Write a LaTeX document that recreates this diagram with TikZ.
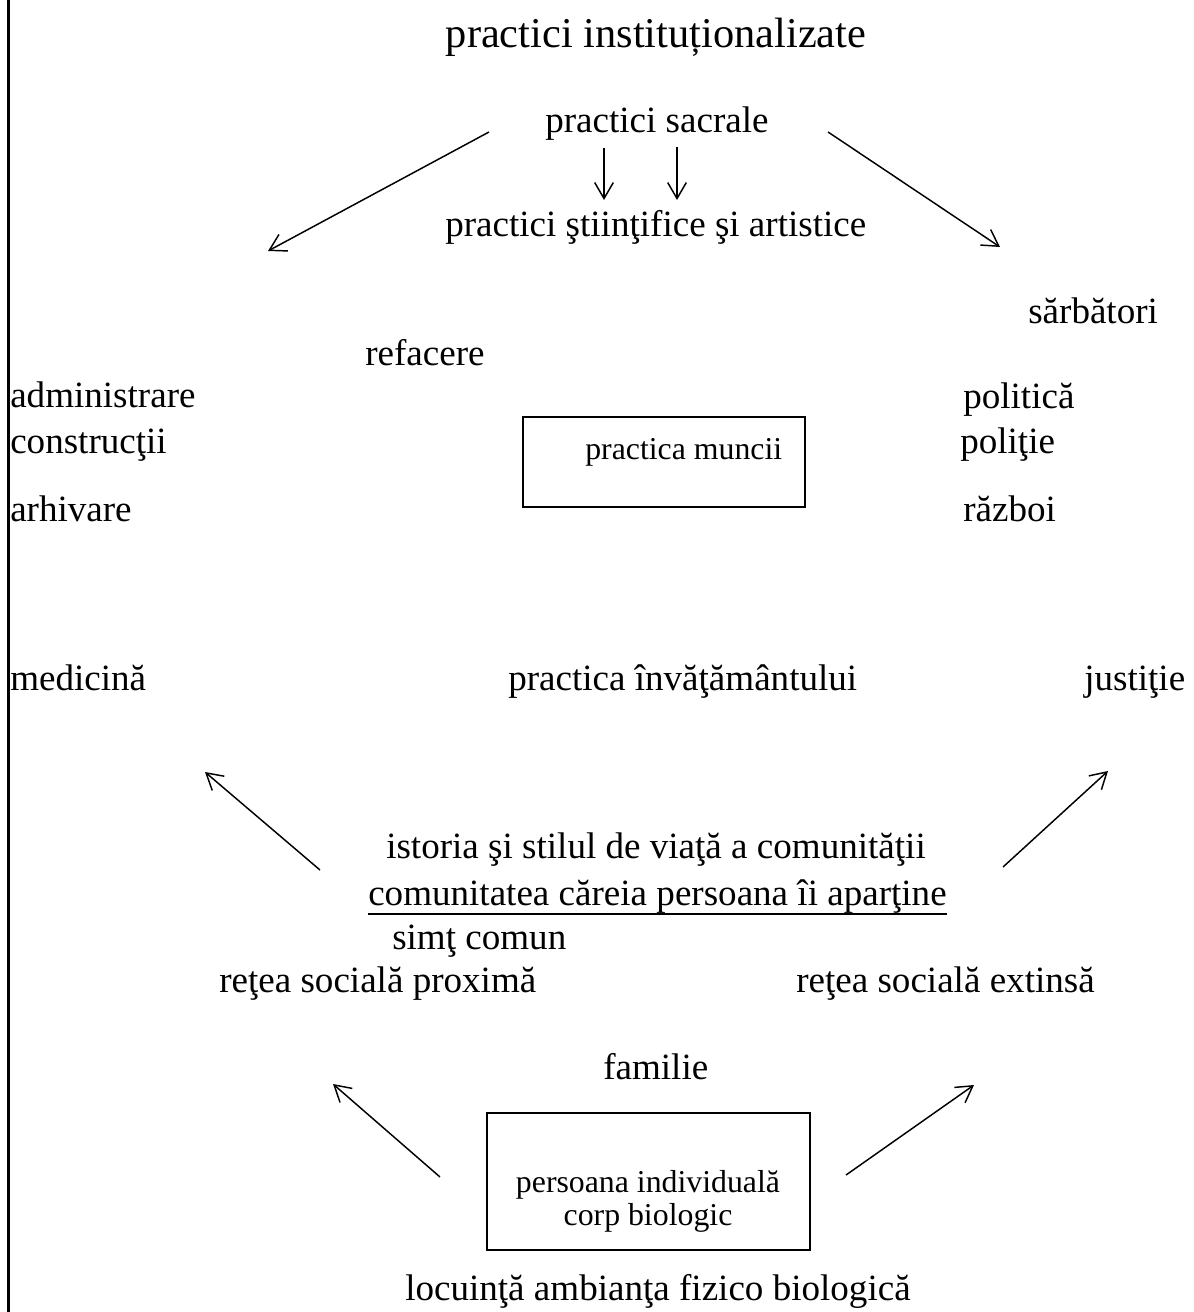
\documentclass[tikz,border=0pt]{standalone}
\usepackage{fontspec}
\setmainfont{Liberation Serif}
\usetikzlibrary{arrows.meta,calc}
\begin{document}
\begin{tikzpicture}[x=0.75pt,y=-0.75pt,
  txt/.style={inner sep=0pt, anchor=base west, font=\fontsize{27.8}{32}\selectfont},
  boxtxt/.style={inner sep=0pt, font=\fontsize{23.85}{24.75}\selectfont},
  frame/.style={draw, line width=0.9pt, inner sep=0pt},
  arr/.style={-{Straight Barb[length=12pt,width=14pt,line width=1.1pt]}, line width=1.1pt}
]
\useasboundingbox (0,0) rectangle (1193,1312);
% left margin rule
\coordinate (ruleT) at (8.7,0);
\coordinate (ruleB) at (8.7,1312);
\draw[line width=2.3pt] (ruleT) -- (ruleB);

% heading
\node[inner sep=0pt, anchor=base, font=\fontsize{31.8}{36}\selectfont] (title) at (656,48) {practici instituționalizate};

% upper part
\node[txt] (sacr) at (545,133) {practici sacrale};
\node[txt] (stiint) at (445,237) {practici ştiinţifice şi artistice};
\node[txt] (sarb) at (1028,324) {sărbători};
\node[txt] (ref) at (365,365) {refacere};
\node[txt] (adm) at (10,407) {administrare};
\node[txt] (constr) at (10,453) {construcţii};
\node[txt] (arh) at (10,521) {arhivare};
\node[txt] (pol) at (963,408) {politică};
\node[txt] (polt) at (960,453) {poliţie};
\node[txt] (razb) at (963,521) {război};

% labour box
\node[frame, minimum width=211.5pt, minimum height=67.5pt] (muncii) at (664,462) {};
\node[boxtxt, anchor=base west] (munciiT) at (585,459) {practica muncii};

% middle row
\node[txt] (med) at (10,690) {medicină};
\node[txt] (inv) at (508,690) {practica învăţământului};
\node[txt] (just) at (1084,690) {justiţie};

% community block
\node[txt] (ist) at (386,858) {istoria şi stilul de viaţă a comunităţii};
\node[txt] (com) at (368,905) {comunitatea căreia persoana îi aparţine};
\draw[line width=1.3pt] ($(com.base west)+(0,9)$) -- ($(com.base east)+(0,9)$);
\node[txt] (simt) at (392,949) {simţ comun};
\node[txt] (rprox) at (219,992) {reţea socială proximă};
\node[txt] (rext) at (796,992) {reţea socială extinsă};
\node[txt] (fam) at (603,1079) {familie};

% person box
\node[frame, minimum width=242.25pt, minimum height=102.75pt] (pers) at (648.5,1181.5) {};
\node[boxtxt, align=center] (persT) at (648,1201) {persoana individuală\\corp biologic};

\node[txt] (loc) at (405,1300) {locuinţă ambianţa fizico biologică};

% arrows
\coordinate (a1s) at (604,148); \coordinate (a1e) at (604,200);
\coordinate (a2s) at (677,147); \coordinate (a2e) at (677,200);
\coordinate (tls) at (489,132); \coordinate (tle) at (268,251);
\coordinate (trs) at (828,132); \coordinate (tre) at (1000,247);
\coordinate (mls) at (320,870); \coordinate (mle) at (205,772);
\coordinate (mrs) at (1003,867); \coordinate (mre) at (1108,771);
\coordinate (bls) at (440,1177); \coordinate (ble) at (333,1084);
\coordinate (brs) at (846,1175); \coordinate (bre) at (974,1085);

\draw[arr] (a1s) -- (a1e);
\draw[arr] (a2s) -- (a2e);
\draw[arr] (tls) -- (tle);
\draw[arr] (trs) -- (tre);
\draw[arr] (mls) -- (mle);
\draw[arr] (mrs) -- (mre);
\draw[arr] (bls) -- (ble);
\draw[arr] (brs) -- (bre);
\end{tikzpicture}
\end{document}
